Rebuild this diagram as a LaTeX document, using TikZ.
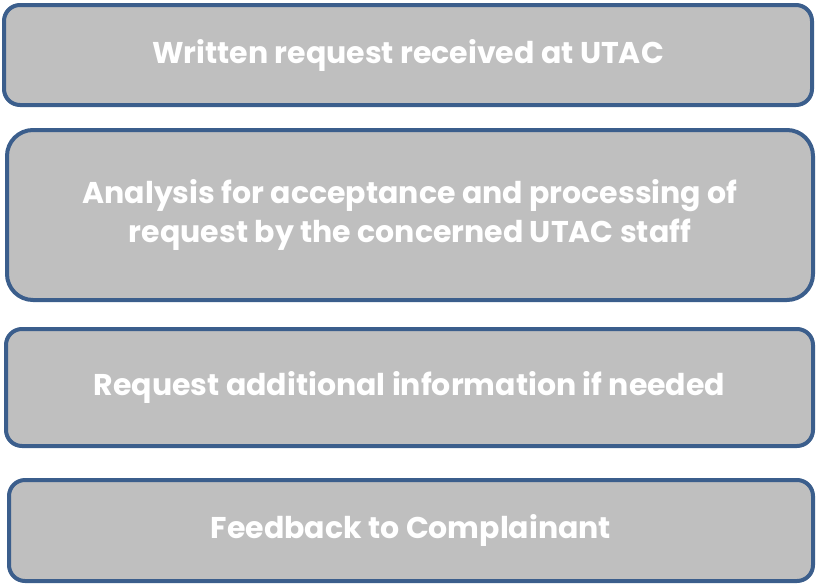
\documentclass[tikz,border=0pt]{standalone}
\usepackage{fontspec}
\setmainfont{Poppins}
\usetikzlibrary{positioning}
\definecolor{boxfill}{HTML}{BFBFBF}
\definecolor{boxline}{HTML}{3B5E8C}

\begin{document}
\begin{tikzpicture}[x=1pt,y=-1pt,
    stagebox/.style={draw=boxline, fill=boxfill, line width=4pt,
      rounded corners=16pt, inner sep=0pt, align=center,
      text=white, font=\fontsize{30}{39}\selectfont\bfseries}]
  \useasboundingbox (0,0) rectangle (816,584);
  % Define stages
  \node[stagebox, minimum width=808pt, minimum height=100pt] (written) at (408,55) {Written request received at UTAC};
  \node[stagebox, minimum width=806pt, minimum height=170pt, rounded corners=26pt] (analysis) at (410,215) {Analysis for acceptance and processing of\\request by the concerned UTAC staff};
  \node[stagebox, minimum width=807pt, minimum height=117pt] (additional) at (409.5,387.5) {Request additional information if needed};
  \node[stagebox, minimum width=804pt, minimum height=101pt] (feedback) at (411,530.5) {Feedback to Complainant};
\end{tikzpicture}
\end{document}
